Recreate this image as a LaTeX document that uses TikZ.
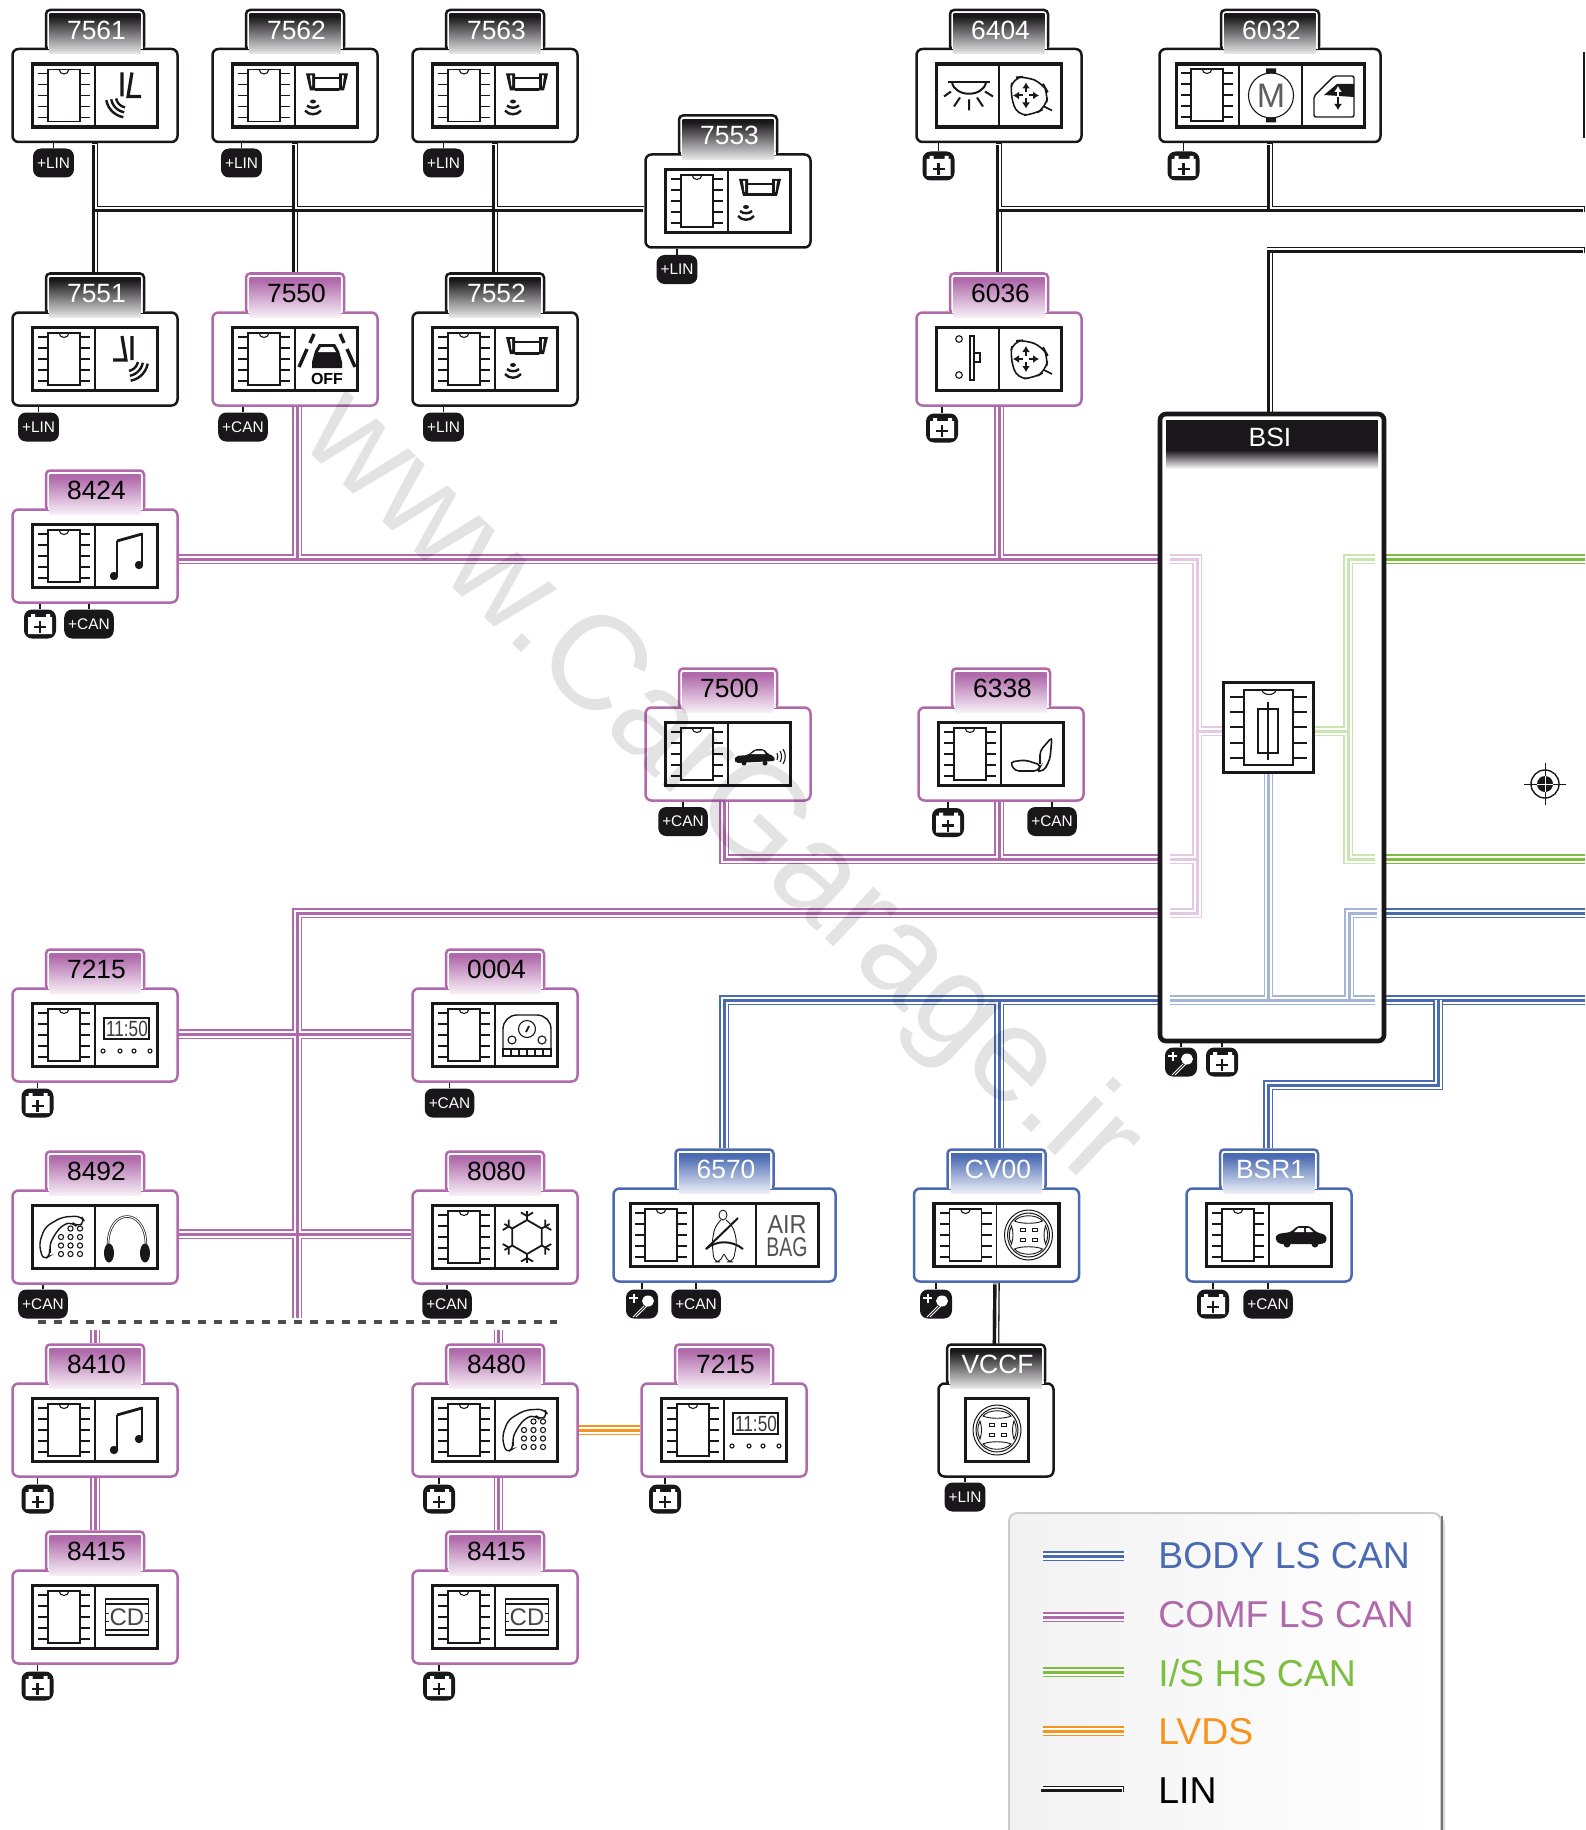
\documentclass[tikz,border=0pt]{standalone}
\usepackage{fontspec}
\setmainfont{Liberation Sans}
\usetikzlibrary{backgrounds,arrows.meta}
\definecolor{comfc}{HTML}{B069AB}
\definecolor{bodyc}{HTML}{4A6AB2}
\definecolor{isc}{HTML}{7DBE3F}
\definecolor{lvdsc}{HTML}{F7941D}
\definecolor{linc}{HTML}{1A171B}
\pgfdeclareverticalshading{fadelin}{100bp}{color(0bp)=(white);color(20bp)=(white);color(72bp)=(linc);color(100bp)=(linc)}
\pgfdeclareverticalshading{fadecomf}{100bp}{color(0bp)=(white);color(20bp)=(white);color(72bp)=(comfc);color(100bp)=(comfc)}
\pgfdeclareverticalshading{fadebody}{100bp}{color(0bp)=(white);color(20bp)=(white);color(72bp)=(bodyc);color(100bp)=(bodyc)}
\tikzset{
  bus/.style={draw=#1, line width=4.7pt, line join=miter,
    postaction={draw=white, line width=3.5pt},
    postaction={draw=#1, line width=1.5pt}},
  box/.style={draw=#1, fill=white, line width=1.25pt, rounded corners=3pt, inner sep=0pt},
  tabbox/.style={draw=#1, fill=white, line width=1.25pt, rounded corners=2pt, minimum width=49pt, minimum height=20pt, inner sep=0pt},
  panel/.style={draw=linc, fill=white, line width=1.7pt, minimum height=31.6pt, inner sep=0pt},
  cellline/.style={draw=linc, line width=.8pt},
  pill/.style={fill=linc, text=white, rounded corners=4pt, minimum height=14.5pt, inner sep=2pt, font=\fontsize{7.7}{8}\selectfont},
  pillicon/.style={fill=linc, rounded corners=4pt, minimum width=16pt, minimum height=14.5pt, inner sep=0pt},
  stem/.style={draw=linc, line width=.8pt},
  ico/.style={draw=linc, line width=.55pt},
  icob/.style={draw=linc, line width=1.1pt},
  tip/.style={-{Latex[length=3pt,width=4pt]}},
  idtext/.style={font=\fontsize{13.2}{13}\selectfont, inner sep=0pt},
  pics/chip/.style={code={
    \draw[ico, line width=.6pt] (-16,-26) rectangle (16,26);
    \draw[ico] (-5,-26) .. controls (-4,-20) and (4,-20) .. (5,-26);
    \foreach \py in {-22,-11,0,11,22} {
      \draw[ico, line width=.65pt] (-26,\py) -- (-16,\py) (16,\py) -- (26,\py);
    }
  }},
  pics/seatwave/.style={code={
    \draw[icob, line width=1.6pt] (-5,-23) -- (-5,1) (5,-23) -- (1,1) -- (14,1);
    \foreach \r in {11,16,21} {
      \draw[icob, line width=1.2pt] plot[domain=100:170,samples=8,smooth] ({\r*cos(\x)},{1+\r*sin(\x)});
    }
  }},
  pics/seatwaveb/.style={code={
    \draw[icob, line width=1.6pt] (5,-23) -- (5,1) (-5,-23) -- (-1,1) -- (-14,1);
    \foreach \r in {11,16,21} {
      \draw[icob, line width=1.2pt] plot[domain=10:80,samples=8,smooth] ({\r*cos(\x)},{1+\r*sin(\x)});
    }
  }},
  pics/parksens/.style={code={
    \fill[linc] (-21,-22) -- (-12,-22) -- (-12,-5) -- (-17,-5) -- cycle;
    \fill[linc] (21,-22) -- (12,-22) -- (12,-5) -- (17,-5) -- cycle;
    \fill[white] (-17,-20) -- (-15,-20) -- (-15,-9) -- (-15.5,-9) -- cycle;
    \fill[white] (17,-20) -- (15,-20) -- (15,-9) -- (15.5,-9) -- cycle;
    \draw[icob, line width=1pt] (-12,-17) -- (12,-17);
    \draw[icob, line width=1.5pt] (-12,-6) -- (12,-6);
    \fill[linc] (-14,6) ellipse (3 and 2);
    \draw[icob, line width=1.2pt] (-20,10) .. controls (-17,13) and (-11,13) .. (-8,10);
    \draw[icob, line width=1.2pt] (-22,15) .. controls (-18,20) and (-10,20) .. (-6,15);
  }},
  pics/caroff/.style={code={
    \fill[linc] (-15,3) -- (-12,-8) -- (-8,-15) -- (8,-15) -- (12,-8) -- (15,3) -- (15,9) -- (-15,9) -- cycle;
    \fill[white] (-9,-7) -- (-6,-12) -- (6,-12) -- (9,-7) -- cycle;
    \draw[icob, line width=1.7pt] (-13,-25) -- (-17,-16) (-20,-10) -- (-28,8);
    \draw[icob, line width=1.7pt] (13,-25) -- (17,-16) (20,-10) -- (28,8);
    \node[inner sep=0pt, font=\bfseries\fontsize{8}{8}\selectfont] at (0,20) {OFF};
  }},
  pics/music/.style={code={
    \draw[ico, line width=.8pt] (-10,20) -- (-10,-15) (15,9) -- (15,-23);
    \draw[ico, line width=1.4pt] (-10,-15) -- (15,-22);
    \fill[linc] (-13,20) circle (4.2) (12,9) circle (4.2);
  }},
  pics/clockface/.style={code={
    \draw[ico, line width=.7pt] (-23,-17) rectangle (22,4);
    \node[inner sep=0pt, xscale=.78, text=linc!85, font=\fontsize{11}{11}\selectfont] at (0,-6.5) {11:50};
    \foreach \px in {-24,-7,7,23} { \draw[ico] (\px,16) circle (2); }
  }},
  pics/gauge/.style={code={
    \draw[ico, line width=.7pt, rounded corners=7pt] (-24,21) -- (-24,-20) -- (24,-20) -- (24,21);
    \draw[ico, line width=.7pt] (-24,21) rectangle (24,14);
    \foreach \px in {-16,-8,0,8,16} { \draw[ico] (\px,14) -- (\px,21); }
    \draw[ico] (0,-6) circle (8.5) (-15,5) circle (4) (15,5) circle (4);
    \draw[ico, line width=.9pt] (-1,-3) -- (2,-9);
  }},
  pics/phone/.style={code={
    \draw[ico, line width=.7pt, rounded corners=3pt] (-21,23) -- (-25,7) -- (-19,-10) -- (-2,-20) -- (17,-21) -- (21,-15) -- (13,-10) -- (8,-15) -- (-2,-12) -- (-11,0) -- (-15,10) -- (-13,18) -- cycle;
    \foreach \py in {0,8.5,17} { \foreach \px in {-3,6.5,16} { \draw[ico] (\px,\py) circle (2.6); } }
    \draw[ico] (6.5,-8.5) circle (2.6) (16,-8.5) circle (2.6);
  }},
  pics/headset/.style={code={
    \draw[ico, double=white, double distance=.5pt, line width=.35pt] (-19,8) .. controls (-19,-30) and (19,-30) .. (19,8);
    \fill[linc] (-18,16) ellipse (5 and 9.5) (18,16) ellipse (5 and 9.5);
  }},
  pics/snow/.style={code={
    \draw[ico, line width=.9pt] (90:17) -- (30:17) -- (-30:17) -- (-90:17) -- (-150:17) -- (150:17) -- cycle;
    \foreach \a in {30,90,150,210,270,330} {
      \draw[ico, line width=.9pt] (\a:17) -- (\a:26);
      \draw[ico, line width=.9pt] (\a:21) -- ++(\a+60:7) (\a:21) -- ++(\a-60:7);
    }
  }},
  pics/belt/.style={code={
    \draw[ico, line width=.45pt] (-1,-20) ellipse (4 and 5);
    \draw[ico, line width=.45pt, rounded corners=3pt] (-3,-15) -- (-9,-9) -- (-12,7) -- (-10,27) -- (-3,27) -- (0,16) -- (3,27) -- (9,27) -- (13,7) -- (9,-9) -- (2,-15);
    \draw[icob, line width=1pt] (14,-17) -- (-18,14);
    \draw[icob, line width=1pt] (-18,14) .. controls (-8,5) and (8,5) .. (19,14);
  }},
  pics/wheel/.style={code={
    \draw[ico, line width=.5pt] (0,0) ellipse (24 and 25) (0,0) ellipse (21 and 22);
    \draw[ico, line width=.45pt] (-14,-14) .. controls (-8,-21) and (8,-21) .. (14,-14) .. controls (8,-11) and (-8,-11) .. cycle;
    \draw[ico, line width=.45pt] (-14,14) .. controls (-8,21) and (8,21) .. (14,14) .. controls (8,11) and (-8,11) .. cycle;
    \draw[ico, line width=.45pt] (-17,-9) .. controls (-20,-3) and (-20,3) .. (-17,9) .. controls (-15,3) and (-15,-3) .. cycle;
    \draw[ico, line width=.45pt] (17,-9) .. controls (20,-3) and (20,3) .. (17,9) .. controls (15,3) and (15,-3) .. cycle;
    \foreach \px in {-8,4} { \foreach \py in {-7,3} { \draw[ico, line width=.45pt] (\px,\py) rectangle ++(5,3.5); } }
  }},
  pics/carside/.style={code={
    \fill[linc, rounded corners=1.5pt] (-26,4) -- (-24,-1) -- (-10,-3) -- (-4,-9) -- (9,-9) -- (15,-3) -- (25,0) -- (26,6) -- (22,9) -- (-22,9) -- cycle;
    \fill[linc] (-14,9) circle (3.5) (14,9) circle (3.5);
    \fill[white] (-7,-3) -- (-3,-7) -- (3,-7) -- (3,-3) -- cycle (5,-3) -- (5,-7) -- (8,-7) -- (12,-3) -- cycle;
  }},
  pics/carwave/.style={code={
    \fill[linc, rounded corners=1pt] (-26,6) -- (-24,2) -- (-12,1) -- (-5,-5) -- (4,-5) -- (8,0) -- (14,2) -- (15,7) -- (-24,9) -- cycle;
    \fill[linc] (-16,9) circle (2.5) (5,9) circle (2.5);
    \fill[white] (-9,0) -- (-4,-3.5) -- (3,-3.5) -- (5.5,0) -- cycle;
    \draw[ico] (17,-1) .. controls (18,1) and (18,4) .. (17,6);
    \draw[ico] (20,-3) .. controls (22,0) and (22,5) .. (20,8);
    \draw[ico] (23,-5) .. controls (26,-1) and (26,6) .. (23,10);
  }},
  pics/seat/.style={code={
    \draw[ico, line width=.8pt, rounded corners=2pt] (-23,8) -- (-18,17) -- (5,17) -- (8,11) -- (-8,6) -- cycle;
    \draw[ico, line width=.8pt, rounded corners=2pt] (7,10) -- (7,-3) -- (19,-17) -- (17,5) -- (11,17) -- (5,17);
  }},
  pics/lamp/.style={code={
    \draw[ico, line width=1pt] (-20,-13) -- (22,-13);
    \draw[ico, line width=1pt] (-16,-13) .. controls (-13,2) and (15,2) .. (18,-13);
    \draw[ico, line width=1pt] (-17,-4) -- (-24,1) (-8,2) -- (-14,11) (1,4) -- (1,15) (9,2) -- (15,11) (17,-4) -- (25,1);
  }},
  pics/mirror/.style={code={
    \draw[ico, line width=.8pt, rounded corners=5pt] (-18,-18) -- (-5,-19) -- (12,-12) -- (17,-3) -- (15,12) -- (3,19) -- (-14,20) -- (-21,-3) -- cycle;
    \draw[ico, line width=.8pt] (13,11) -- (21,15);
    \draw[ico, line width=1pt, tip] (-8,0) -- (-18,0);
    \draw[ico, line width=1pt, tip] (-2,0) -- (8,0);
    \draw[ico, line width=1pt, tip] (-5,-3) -- (-5,-13);
    \draw[ico, line width=1pt, tip] (-5,3) -- (-5,13);
  }},
  pics/doorlock/.style={code={
    \draw[ico] (-9,-20) circle (3.3) (-9,16) circle (3.3);
    \draw[ico] (2,-23) rectangle (6,21) (6,-6) rectangle (12,3);
  }},
  pics/motor/.style={code={
    \fill[linc] (-5,-27) rectangle (5,-22) (-5,22) rectangle (5,27);
    \draw[ico] (0,0) circle (22.5);
    \node[inner sep=0pt, text=linc!70, font=\fontsize{17}{17}\selectfont] at (0,0) {M};
  }},
  pics/winlift/.style={code={
    \draw[ico, line width=.7pt, rounded corners=1pt] (-20,0) -- (0,-20) -- (20,-20) -- (20,21) -- (-20,21) -- cycle;
    \fill[linc] (-10,-1) -- (3,-12) -- (20,-12) -- (20,1) -- cycle;
    \draw[draw=white, line width=.8pt, tip] (4,0) -- (4,-10);
    \draw[ico, line width=.8pt, tip] (4,1) -- (4,14);
  }},
  pics/cddisc/.style={code={
    \draw[ico, line width=.7pt] (-21.5,-18) rectangle (21.5,18) (-21.5,-13) -- (21.5,-13) (-21.5,13) -- (21.5,13);
    \node[inner sep=0pt, font=\fontsize{12}{12}\selectfont, text=linc!80] at (0,0) {CD};
    \draw[ico, line width=.4pt] (-21.5,-4) -- (-18,-4) (-21.5,4) -- (-18,4) (21.5,-4) -- (18,-4) (21.5,4) -- (18,4);
  }},
  pics/airbag/.style={code={
    \node[inner sep=0pt, text=linc!75, xscale=.9, font=\fontsize{13}{13}\selectfont] at (0,-10) {AIR};
    \node[inner sep=0pt, text=linc!75, xscale=.72, font=\fontsize{13.5}{13}\selectfont] at (0,12) {BAG};
  }},
  pics/batt/.style={code={
    \fill[white] (-12,-7) rectangle (12,10) (-9,-10) rectangle (-5,-7) (6,-10) rectangle (10,-7);
    \draw[draw=linc, line width=1.2pt] (-6,3) -- (6,3) (0,-3) -- (0,9);
  }},
  pics/ignkey/.style={code={
    \draw[draw=white, line width=1pt] (-13,-6) -- (-4,-6) (-8.5,-10.5) -- (-8.5,-1.5);
    \fill[white] (6,-3) ellipse (6 and 5.5);
    \draw[draw=white, line width=.5pt] (2,2) -- (-9,13) (5,2) -- (-6,13);
  }}
}
% module outline with its header tab: name, x, y, text colour, fade, colour, width, label
\newcommand{\ecubox}[8]{%
  \node[tabbox=#6] (t#1) at (#2,#3-47.5-18) {};
  \node[box=#6, minimum width=#7pt*.5-.5pt, minimum height=46.5pt] (m#1) at (#2,#3) {};
  \fill[white] (#2-47.5,#3-49) rectangle (#2+47.5,#3-46);
  \shade[shading=fade#5] (#2-45.5,#3-47.5-34) rectangle (#2+45.5,#3-47.5+6);
  \node[idtext, text=#4] (n#1) at (#2+1.5,#3-47.5-18) {#8};
}
% two cell panel in the usual place
\newcommand{\ecu}[9]{%
  \ecubox{#1}{#3}{#4}{#5}{#6}{#7}{166}{#2}
  \node[panel, minimum width=62.6pt] (p#1) at (#3,#4) {};
  \draw[cellline] (p#1.north) -- (p#1.south);
  \pic at (#3-31,#4) {#8};
  \pic at (#3+32,#4) {#9};
}
\newcommand{\tagcan}[5]{%
  \node[pill] (#1) at (#2,#3) {#4};
  \draw[stem] (#1.north) -- (#1.north |- #5.south);
}
\newcommand{\tagbatt}[4]{%
  \node[pillicon] (#1) at (#2,#3) {};
  \pic at (#1.center) {batt};
  \draw[stem] (#1.north) -- (#1.north |- #4.south);
}
\newcommand{\tagkey}[4]{%
  \node[pillicon] (#1) at (#2,#3) {};
  \pic at (#1.center) {ignkey};
  \draw[stem] (#1.north) -- (#1.north |- #4.south);
}
\newcommand{\linbus}[1]{%
  \draw[draw=linc, line width=3.3pt] #1;
  \draw[draw=white, line width=2.65pt, transform canvas={xshift=-.33pt,yshift=-.33pt}] #1;
  \draw[draw=linc, line width=1.7pt, transform canvas={xshift=-.8pt,yshift=-.8pt}] #1;
}
\pgfdeclarelayer{wires}
\pgfsetlayers{wires,main}
\begin{document}
\begin{tikzpicture}[x=.5pt,y=-.5pt]
  \useasboundingbox (0,0) rectangle (1585,1830);

  % first row
  \ecu{7561}{7561}{95}{95.5}{white}{lin}{linc}{chip}{seatwave}
  \ecu{7562}{7562}{295}{95.5}{white}{lin}{linc}{chip}{parksens}
  \ecu{7563}{7563}{495}{95.5}{white}{lin}{linc}{chip}{parksens}
  \ecu{7553}{7553}{728}{201}{white}{lin}{linc}{chip}{parksens}
  \ecu{6404}{6404}{999}{95.5}{white}{lin}{linc}{lamp}{mirror}
  \ecubox{6032}{1270}{95.5}{white}{lin}{linc}{222}{6032}
  \node[panel, minimum width=93.8pt] (p6032) at (1270.5,95.5) {};
  \draw[cellline] (1239,63) -- (1239,128) (1302,63) -- (1302,128);
  \pic at (1207,95) {chip};
  \pic at (1271,95.5) {motor};
  \pic at (1334,96) {winlift};
  % second row
  \ecu{7551}{7551}{95}{359}{white}{lin}{linc}{chip}{seatwaveb}
  \ecu{7550}{7550}{295}{359}{black}{comf}{comfc}{chip}{caroff}
  \ecu{7552}{7552}{495}{359}{white}{lin}{linc}{chip}{parksens}
  \ecu{6036}{6036}{999}{359}{black}{comf}{comfc}{doorlock}{mirror}
  \ecu{8424}{8424}{95}{556}{black}{comf}{comfc}{chip}{music}
  \ecu{7500}{7500}{728}{754}{black}{comf}{comfc}{chip}{carwave}
  \ecu{6338}{6338}{1001}{754}{black}{comf}{comfc}{chip}{seat}
  \ecu{7215a}{7215}{95}{1035}{black}{comf}{comfc}{chip}{clockface}
  \ecu{0004}{0004}{495}{1035}{black}{comf}{comfc}{chip}{gauge}
  \ecu{8492}{8492}{95}{1237}{black}{comf}{comfc}{phone}{headset}
  \ecu{8080}{8080}{495}{1237}{black}{comf}{comfc}{chip}{snow}
  \ecu{8410}{8410}{95}{1430}{black}{comf}{comfc}{chip}{music}
  \ecu{8480}{8480}{495}{1430}{black}{comf}{comfc}{chip}{phone}
  \ecu{7215b}{7215}{724}{1430}{black}{comf}{comfc}{chip}{clockface}
  \ecu{8415a}{8415}{95}{1617}{black}{comf}{comfc}{chip}{cddisc}
  \ecu{8415b}{8415}{495}{1617}{black}{comf}{comfc}{chip}{cddisc}

  % body can modules
  \ecubox{6570}{724.5}{1235}{white}{body}{bodyc}{223}{6570}
  \node[panel, minimum width=93.8pt] (p6570) at (724.5,1235) {};
  \draw[cellline] (693,1202) -- (693,1268) (756,1202) -- (756,1268);
  \pic at (661,1235) {chip};
  \pic at (724,1235) {belt};
  \pic at (787,1235) {airbag};
  \ecu{CV00}{CV00}{996.5}{1235}{white}{body}{bodyc}{chip}{wheel}
  \ecu{BSR1}{BSR1}{1269}{1235}{white}{body}{bodyc}{chip}{carside}
  \ecubox{VCCF}{996}{1430}{white}{lin}{linc}{116}{VCCF}
  \node[panel, minimum width=31.3pt] (pVCCF) at (997,1430) {};
  \pic at (997,1430) {wheel};

  % BSI
  \node[box=linc, line width=2.3pt, minimum width=112pt, minimum height=313.5pt] (mBSI) at (1272,727.5) {};
  \fill[linc] (1166,420) rectangle (1378,450);
  \shade[top color=linc, bottom color=white] (1166,450) rectangle (1378,469);
  \node[idtext, text=white] (nBSI) at (1270,437) {BSI};
  \node[panel, minimum width=44.8pt, minimum height=44.8pt] (cBSI) at (1268.5,727.5) {};
  \draw[ico, line width=.7pt] (1244,690) rectangle (1293,765);
  \draw[ico] (1262,690) .. controls (1263,696) and (1275,696) .. (1276,690);
  \foreach \py in {697,712,727,743,758} {
    \draw[ico, line width=.7pt] (1230,\py) -- (1244,\py) (1293,\py) -- (1307,\py);
  }
  \draw[ico, line width=.7pt] (1258,709) rectangle (1278,753) (1268,702) -- (1268,760);

  % pale wires inside the BSI
  \coordinate (icA) at (1170,559);
  \coordinate (icB) at (1170,859);
  \coordinate (icC) at (1170,913);
  \coordinate (icD) at (1197,559);
  \coordinate (icE) at (1197,913);
  \coordinate (icF) at (1197,731);
  \coordinate (igA) at (1375,559);
  \coordinate (igB) at (1375,859);
  \coordinate (igC) at (1348,559);
  \coordinate (igD) at (1348,859);
  \coordinate (igF) at (1348,731);
  \coordinate (ibA) at (1170,1000);
  \coordinate (ibB) at (1375,1000);
  \coordinate (ibC) at (1377,913);
  \coordinate (ibD) at (1349,913);
  \coordinate (ibE) at (1349,1000);
  \draw[bus=comfc!35] (icA) -- (icD) -- (icE) -- (icC) (icB) -- (1197,859) (cBSI.west |- icF) -- (icF);
  \draw[bus=isc!40] (igA) -- (igC) -- (igD) -- (igB) (cBSI.east |- igF) -- (igF);
  \draw[bus=bodyc!50] (ibA) -- (ibB) (cBSI.south) -- (cBSI.south |- ibA) (ibC) -- (ibD) -- (ibE);

  % supply and bus tags
  \tagcan{b7561}{53.5}{163}{+LIN}{m7561}
  \tagcan{b7562}{241.5}{163}{+LIN}{m7562}
  \tagcan{b7563}{443.5}{163}{+LIN}{m7563}
  \tagcan{b7553}{677}{269.5}{+LIN}{m7553}
  \tagcan{b7551}{38.5}{427}{+LIN}{m7551}
  \tagcan{b7550}{243}{427}{+CAN}{m7550}
  \tagcan{b7552}{443.5}{427}{+LIN}{m7552}
  \tagcan{c8424}{89}{624}{+CAN}{m8424}
  \tagcan{b7500}{683}{821.5}{+CAN}{m7500}
  \tagcan{c6338}{1052}{821.5}{+CAN}{m6338}
  \tagcan{b0004}{449.5}{1103}{+CAN}{m0004}
  \tagcan{b8492}{43}{1304}{+CAN}{m8492}
  \tagcan{b8080}{447}{1304}{+CAN}{m8080}
  \tagcan{c6570}{696}{1304}{+CAN}{m6570}
  \tagcan{cBSR1}{1268}{1304}{+CAN}{mBSR1}
  \tagcan{bVCCF}{965}{1497}{+LIN}{mVCCF}
  \tagbatt{b6404}{938.5}{166}{m6404}
  \tagbatt{b6032}{1183.5}{166}{m6032}
  \tagbatt{b6036}{942}{428}{m6036}
  \tagbatt{b8424}{40}{624}{m8424}
  \tagbatt{b6338}{948}{822.5}{m6338}
  \tagbatt{b7215a}{37.5}{1103}{m7215a}
  \tagbatt{bBSR1}{1213}{1304}{mBSR1}
  \tagbatt{b8410}{37.5}{1499}{m8410}
  \tagbatt{b8480}{439}{1499}{m8480}
  \tagbatt{b7215b}{665}{1499}{m7215b}
  \tagbatt{b8415a}{37.5}{1686}{m8415a}
  \tagbatt{b8415b}{439}{1686}{m8415b}
  \tagbatt{bBSI}{1222}{1062}{mBSI}
  \tagkey{b6570}{642}{1304}{m6570}
  \tagkey{bCV00}{936}{1304}{mCV00}
  \tagkey{kBSI}{1181}{1062}{mBSI}

  % wires, kept under the modules
  \coordinate (edgeA) at (1585,209);
  \coordinate (edgeB) at (1585,250);
  \coordinate (edgeC) at (1585,559);
  \coordinate (edgeD) at (1585,859);
  \coordinate (edgeE) at (1585,913);
  \coordinate (edgeF) at (1585,1000);
  \coordinate (topA) at (95,209);
  \coordinate (topB) at (999,209);
  \coordinate (topC) at (1270,250);
  \coordinate (comfA) at (297,559);
  \coordinate (comfB) at (999,559);
  \coordinate (comfC) at (724,859);
  \coordinate (comfD) at (999,859);
  \coordinate (comfE) at (297,913);
  \coordinate (comfF) at (297,1318);
  \coordinate (comfG) at (297,1034);
  \coordinate (comfH) at (297,1234);
  \coordinate (stubA) at (95,1330);
  \coordinate (stubB) at (498.5,1330);
  \coordinate (bodyA) at (724,1000);
  \coordinate (bodyB) at (999,1000);
  \coordinate (bodyC) at (1438,1000);
  \coordinate (bodyD) at (1438,1085);
  \coordinate (bodyE) at (1268,1085);
  \begin{pgfonlayer}{wires}
    \linbus{(topA) -- (topA -| m7553.west) (m7561.south) -- (t7551.north) (m7562.south) -- (t7550.north) (m7563.south) -- (t7552.north)}
    \linbus{(topB) -- (edgeA) (m6404.south) -- (t6036.north) (m6032.south) -- (m6032.south |- edgeA)}
    \linbus{(mBSI.north -| topC) -- (topC) -- (edgeB)}
    \linbus{(mCV00.south) -- (tVCCF.north)}
    \draw[bus=comfc] (m8424.east |- comfA) -- (mBSI.west |- comfA) (comfA |- m7550.south) -- (comfA) (comfB |- m6036.south) -- (comfB);
    \draw[bus=comfc] (comfC |- m7500.south) -- (comfC) -- (mBSI.west |- comfC) (comfD |- m6338.south) -- (comfD);
    \draw[bus=comfc] (mBSI.west |- comfE) -- (comfE) -- (comfF) (m7215a.east |- comfG) -- (m0004.west |- comfG) (m8492.east |- comfH) -- (m8080.west |- comfH);
    \draw[bus=comfc] (stubA) -- (t8410.north) (m8410.south) -- (t8415a.north);
    \draw[bus=comfc] (stubB) -- (stubB |- t8480.north) (stubB |- m8480.south) -- (stubB |- t8415b.north);
    \draw[bus=lvdsc] (m8480.east) -- (m7215b.west);
    \draw[bus=isc] (mBSI.east |- edgeC) -- (edgeC) (mBSI.east |- edgeD) -- (edgeD);
    \draw[bus=bodyc] (mBSI.east |- edgeE) -- (edgeE) (mBSI.east |- edgeF) -- (edgeF);
    \draw[bus=bodyc] (mBSI.west |- bodyA) -- (bodyA) -- (bodyA |- t6570.north) (bodyB) -- (bodyB |- tCV00.north) (bodyC) -- (bodyD) -- (bodyE) -- (bodyE |- tBSR1.north);
  \end{pgfonlayer}

  % cut between the two networks
  \coordinate (cutA) at (38,1322);
  \coordinate (cutB) at (557,1322);
  \draw[draw=black!70, line width=1.6pt, dash pattern=on 4pt off 4pt] (cutA) -- (cutB);

  % next module, cut by the page
  \coordinate (nextA) at (1584,52);
  \coordinate (nextB) at (1584,138);
  \draw[draw=linc, line width=1.25pt] (nextA) -- (nextB);

  % target mark
  \node[draw=linc, circle, line width=.7pt, minimum size=14pt, inner sep=0pt] (target) at (1545,784) {};
  \fill[linc] (target.center) circle (8);
  \draw[draw=linc, line width=.4pt] (1524,784) -- (1566,784) (1545,763) -- (1545,805);
  \draw[draw=white, line width=.4pt] (1537,784) -- (1553,784) (1545,776) -- (1545,792);

  % legend
  \fill[black!15, rounded corners=4pt] (1013,1516) rectangle (1445,1845);
  \node[draw=black!20, line width=1pt, left color=black!5, right color=white, rounded corners=4pt, minimum width=216pt, minimum height=163pt, inner sep=0pt, anchor=north west] (legend) at (1008,1512) {};
  \draw[draw=black!55, line width=1pt] (legend.north east) ++(0,4) -- ++(0,320);
  \tikzset{legendtext/.style={anchor=base west, inner sep=0pt, font=\fontsize{18.7}{19}\selectfont}}
  \node[legendtext, text=bodyc] (lgBody) at (1158,1568) {BODY LS CAN};
  \node[legendtext, text=comfc] (lgComf) at (1158,1627) {COMF LS CAN};
  \node[legendtext, text=isc] (lgIs) at (1158,1686) {I/S HS CAN};
  \node[legendtext, text=lvdsc] (lgLvds) at (1158,1744) {LVDS};
  \node[legendtext, text=black] (lgLin) at (1158,1803) {LIN};
  \coordinate (swA) at (1043,1556);
  \coordinate (swB) at (1124,1556);
  \coordinate (swC) at (1043,1617);
  \coordinate (swD) at (1124,1617);
  \coordinate (swE) at (1043,1672);
  \coordinate (swF) at (1124,1672);
  \coordinate (swG) at (1043,1731);
  \coordinate (swH) at (1124,1731);
  \coordinate (swI) at (1043,1789);
  \coordinate (swJ) at (1124,1789);
  \draw[bus=bodyc] (swA) -- (swB);
  \draw[bus=comfc] (swC) -- (swD);
  \draw[bus=isc] (swE) -- (swF);
  \draw[bus=lvdsc] (swG) -- (swH);
  \linbus{(swI) -- (swJ)}

  % watermark
  \node[text=black, text opacity=.11, rotate=-43.3, font=\fontsize{67}{67}\selectfont, inner sep=0pt] (mark) at (720,792) {www.CarGarage.ir};
\end{tikzpicture}
\end{document}
